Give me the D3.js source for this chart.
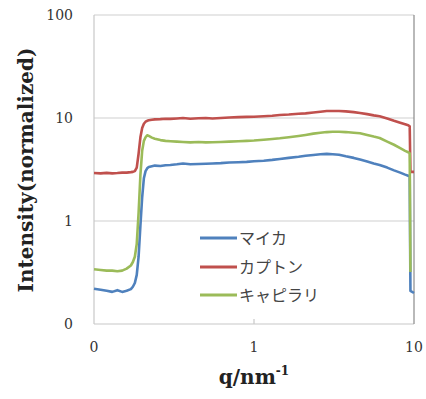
<!DOCTYPE html>
<html>
<head>
<meta charset="utf-8">
<script src="https://cdn.jsdelivr.net/npm/d3@7"></script>
<style>
  html, body { margin: 0; padding: 0; background: #fff; }
  svg { display: block; }
  .tick-label { font-family: "DejaVu Serif", serif; font-size: 14px; fill: #333; }
  .axis-title { font-family: "DejaVu Serif", serif; font-weight: bold; font-size: 20px; fill: #222; }
  .legend-label { font-family: "Noto Sans CJK JP", sans-serif; font-size: 16px; fill: #444; }
</style>
</head>
<body>
<svg id="chart" width="426" height="399"></svg>
<script>
// q values (nm^-1), shared by all three series
const qValues = [
  0.10, 0.11, 0.12, 0.13, 0.14, 0.15, 0.16, 0.17, 0.175, 0.18,
  0.185, 0.19, 0.195, 0.20, 0.205, 0.21, 0.215, 0.22, 0.23, 0.24,
  0.26, 0.28, 0.30, 0.33, 0.36, 0.40, 0.45, 0.50, 0.55, 0.62,
  0.70, 0.80, 0.90, 1.0, 1.15, 1.3, 1.45, 1.65, 1.9, 2.1,
  2.35, 2.6, 2.85, 3.1, 3.4, 3.75, 4.2, 4.6, 5.1, 5.6,
  6.1, 6.8, 7.5, 8.2, 8.8, 9.2, 9.4, 9.5, 10.0
];

// マイカ
const micaValues = [
  0.22, 0.215, 0.21, 0.205, 0.213, 0.205, 0.21, 0.218, 0.23, 0.25,
  0.30, 0.45, 0.9, 1.7, 2.6, 3.05, 3.25, 3.35, 3.4, 3.45,
  3.42, 3.48, 3.5, 3.55, 3.62, 3.55, 3.58, 3.6, 3.62, 3.65,
  3.7, 3.72, 3.75, 3.8, 3.85, 3.92, 4.0, 4.1, 4.2, 4.3,
  4.38, 4.45, 4.48, 4.45, 4.4, 4.25, 4.1, 3.95, 3.78, 3.62,
  3.5, 3.3, 3.1, 2.95, 2.82, 2.75, 2.7, 0.21, 0.2
];

// カプトン
const kaptonValues = [
  2.92, 2.9, 2.93, 2.9, 2.92, 2.95, 2.95, 2.98, 3.0, 3.05,
  3.3, 4.5, 6.5, 8.0, 8.8, 9.2, 9.4, 9.5, 9.6, 9.7,
  9.75, 9.85, 9.8, 9.9, 10.0, 9.85, 9.95, 10.0, 9.9, 10.0,
  10.1, 10.2, 10.25, 10.3, 10.4, 10.5, 10.7, 10.8, 11.0, 11.1,
  11.3, 11.5, 11.7, 11.7, 11.7, 11.6, 11.4, 11.2, 10.9, 10.6,
  10.4, 9.9, 9.4, 9.0, 8.7, 8.5, 8.3, 3.0, 3.0
];

// キャピラリ
const capillaryValues = [
  0.34, 0.335, 0.33, 0.33, 0.325, 0.33, 0.345, 0.37, 0.40, 0.45,
  0.6, 1.2, 2.8, 4.8, 6.0, 6.5, 6.8, 6.7, 6.45, 6.3,
  6.1, 6.0, 5.95, 5.9, 5.85, 5.8, 5.85, 5.8, 5.82, 5.85,
  5.9, 5.95, 6.0, 6.05, 6.15, 6.25, 6.35, 6.5, 6.7, 6.85,
  7.05, 7.2, 7.3, 7.35, 7.35, 7.3, 7.2, 7.1, 6.85, 6.6,
  6.4, 5.9, 5.5, 5.1, 4.8, 4.65, 4.55, 0.32, null
];

const seriesNames = ["マイカ", "カプトン", "キャピラリ"];
const seriesColors = ["#4f81bd", "#c0504d", "#9bbb59"];
const seriesValues = [micaValues, kaptonValues, capillaryValues];

const xTicks = [0.1, 1, 10];
const xTickLabels = ["0", "1", "10"];
const yTicks = [0.1, 1, 10, 100];
const yTickLabels = ["0", "1", "10", "100"];

const margin = { left: 94, right: 12, top: 15, bottom: 75 };
const W = 426, H = 399;

const svg = d3.select("#chart");

const x = d3.scaleLog().domain([0.1, 10]).range([margin.left, W - margin.right]);
const y = d3.scaleLog().domain([0.1, 100]).range([H - margin.bottom, margin.top]);

// gridlines
svg.append("g")
  .selectAll("line")
  .data(yTicks.slice(1))
  .join("line")
    .attr("x1", x(0.1)).attr("x2", x(10))
    .attr("y1", (d) => y(d)).attr("y2", (d) => y(d))
    .attr("stroke", "#cfcfcf").attr("stroke-width", 1.2);

// axis lines
svg.append("line")
  .attr("x1", x(0.1)).attr("x2", x(0.1))
  .attr("y1", y(100)).attr("y2", y(0.1))
  .attr("stroke", "#c8c8c8").attr("stroke-width", 1.2);
svg.append("line")
  .attr("x1", x(0.1)).attr("x2", x(10))
  .attr("y1", y(0.1)).attr("y2", y(0.1))
  .attr("stroke", "#c8c8c8").attr("stroke-width", 1.2);
// right border
svg.append("line")
  .attr("x1", x(10)).attr("x2", x(10))
  .attr("y1", y(100)).attr("y2", y(0.1))
  .attr("stroke", "#8a8a8a").attr("stroke-width", 1.2);

// x inner tick
svg.append("g")
  .selectAll("line")
  .data([1])
  .join("line")
    .attr("x1", (d) => x(d)).attr("x2", (d) => x(d))
    .attr("y1", y(0.1)).attr("y2", y(0.1) - 5)
    .attr("stroke", "#c8c8c8").attr("stroke-width", 1.2);

// tick labels
svg.append("g")
  .selectAll("text")
  .data(yTicks)
  .join("text")
    .attr("class", "tick-label")
    .attr("x", 73)
    .attr("y", (d) => y(d))
    .attr("dy", "0.36em")
    .attr("text-anchor", "end")
    .text((d, i) => yTickLabels[i]);

svg.append("g")
  .selectAll("text")
  .data(xTicks)
  .join("text")
    .attr("class", "tick-label")
    .attr("x", (d) => x(d))
    .attr("y", 347)
    .attr("dy", "0.36em")
    .attr("text-anchor", "middle")
    .text((d, i) => xTickLabels[i]);

// series lines
const line = d3.line()
  .defined((d) => d[1] != null)
  .x((d) => x(d[0]))
  .y((d) => y(d[1]));

svg.append("g")
  .selectAll("path")
  .data(seriesValues)
  .join("path")
    .attr("fill", "none")
    .attr("stroke", (d, i) => seriesColors[i])
    .attr("stroke-width", 2.6)
    .attr("stroke-linejoin", "round")
    .attr("d", (vals) => line(qValues.map((q, j) => [q, vals[j]])));

// legend
const legend = svg.append("g");
const rowY = [238, 267, 295];
seriesNames.forEach((name, i) => {
  legend.append("line")
    .attr("x1", 200).attr("x2", 237)
    .attr("y1", rowY[i]).attr("y2", rowY[i])
    .attr("stroke", seriesColors[i]).attr("stroke-width", 3);
  legend.append("text")
    .attr("class", "legend-label")
    .attr("x", 239).attr("y", rowY[i])
    .attr("dy", "0.36em")
    .text(name);
});

// axis titles
svg.append("text")
  .attr("class", "axis-title")
  .attr("transform", "translate(33,170) rotate(-90)")
  .attr("text-anchor", "middle")
  .text("Intensity(normalized)");

const xt = svg.append("text")
  .attr("class", "axis-title")
  .attr("x", 254).attr("y", 384)
  .attr("text-anchor", "middle");
xt.append("tspan").text("q/nm");
xt.append("tspan").attr("font-size", "12px").attr("dy", "-9").text("-1");
</script>
</body>
</html>
